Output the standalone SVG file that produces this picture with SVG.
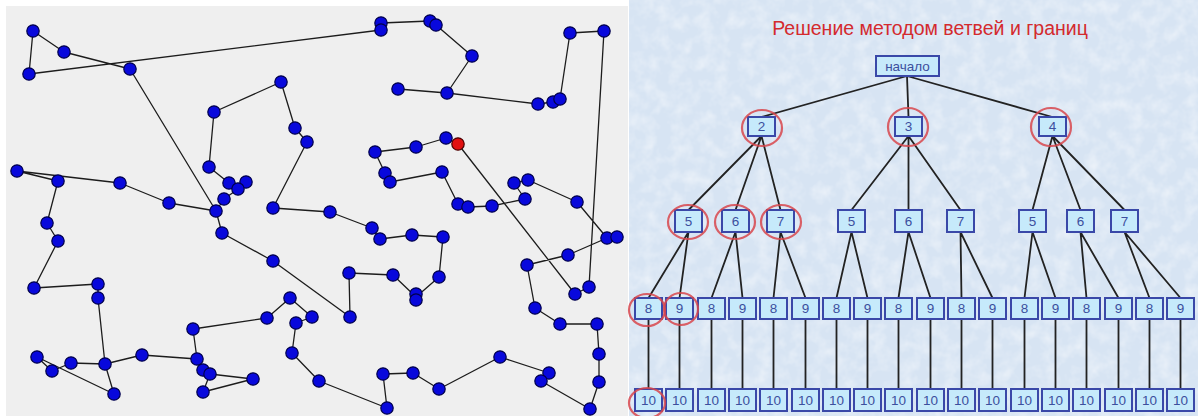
<svg xmlns="http://www.w3.org/2000/svg" width="1198" height="416" viewBox="0 0 1198 416">
  <style>
    .route { fill: none; stroke: #1c1c1c; stroke-width: 1.3; stroke-linejoin: round; }
    .city { fill: #0808dc; stroke: #00004a; stroke-width: 1.2; }
    .city-start { fill: #e01010; stroke: #4a0000; stroke-width: 1.2; }
    .box { fill: #c6eafb; stroke: #3a48a8; stroke-width: 2; }
    .lbl { font-family: "Liberation Sans", Arial, sans-serif; font-size: 13.5px; fill: #3c4f9e; text-anchor: middle; }
    .edge { stroke: #222222; stroke-width: 1.8; fill: none; }
    .mark { fill: none; stroke: #d8474c; stroke-width: 2.2; stroke-opacity: 0.85; }
    .title { font-family: "Liberation Sans", Arial, sans-serif; font-size: 19.5px; fill: #d42a2e; text-anchor: middle; }
  </style>
  <defs>
    <filter id="mottle" x="0" y="0" width="100%" height="100%">
      <feTurbulence type="fractalNoise" baseFrequency="0.07" numOctaves="3" seed="4"/>
      <feColorMatrix type="matrix" values="0 0 0 0 1  0 0 0 0 1  0 0 0 0 1  0.9 0 0 0 -0.36"/>
    </filter>
  </defs>

  <!-- backgrounds -->
  <rect x="0" y="0" width="1198" height="416" fill="#ffffff"/>
  <rect x="6" y="6" width="622" height="410" fill="#efefef"/>
  <rect x="629" y="0" width="569" height="416" fill="#d7e4f3"/>
  <rect x="629" y="0" width="569" height="416" filter="url(#mottle)"/>

  <!-- route through the cities -->
  <g id="route">
    <path class="route" d="M381,30 L29,74 L33,31 L64,52 L130,69 L216,211"/>
    <path class="route" d="M381,23 L430,21 L436,25 L472,56 L447,93"/>
    <path class="route" d="M398,89 L447,93 L538,104 L553,102 L560,99 L570,33 L604,31 L589,287 L575,294 L458,144 L446,138 L416,147 L375,152 L385,173 L390,182 L442,172 L458,204 L468,207 L492,206 L525,199 L514,183 L528,180 L577,202 L607,238 L568,255 L527,265 L535,308 L560,324 L597,324 L599,354 L599,382 L590,409 L541,381 L549,373 L500,357 L439,389 L413,373 L383,374 L387,408 L319,381 L292,353 L296,323 L312,317 L290,298 L267,318 L193,329 L197,359 L203,370 L210,374 L253,379 L203,392 L210,374"/>
    <path class="route" d="M47,223 L58,181 L17,171 L120,183 L169,203 L216,211 L222,233 L273,261 L350,317 L349,273 L393,275 L416,297 L439,277 L443,237 L412,235 L380,239 L372,228 L330,212 L273,208 L307,142 L295,128 L281,82 L214,112 L209,167 L229,183 L238,189 L224,199 L216,211"/>
    <path class="route" d="M238,189 L246,182"/>
    <path class="route" d="M47,223 L58,241 L34,288 L98,284 L98,298 L105,364 L114,394 L37,357 L52,371 L71,363 L105,364 L142,355 L197,359"/>
  </g>

  <!-- cities -->
  <g id="cities">
    <g id="c1"><circle class="city" cx="33" cy="31" r="6.2"/></g>
    <g id="c2"><circle class="city" cx="64" cy="52" r="6.2"/></g>
    <g id="c3"><circle class="city" cx="29" cy="74" r="6.2"/></g>
    <g id="c4"><circle class="city" cx="130" cy="69" r="6.2"/></g>
    <g id="c5"><circle class="city" cx="281" cy="82" r="6.2"/></g>
    <g id="c6"><circle class="city" cx="214" cy="112" r="6.2"/></g>
    <g id="c7"><circle class="city" cx="295" cy="128" r="6.2"/></g>
    <g id="c8"><circle class="city" cx="307" cy="142" r="6.2"/></g>
    <g id="c9"><circle class="city" cx="209" cy="167" r="6.2"/></g>
    <g id="c10"><circle class="city" cx="229" cy="183" r="6.2"/></g>
    <g id="c11"><circle class="city" cx="246" cy="182" r="6.2"/></g>
    <g id="c12"><circle class="city" cx="238" cy="189" r="6.2"/></g>
    <g id="c13"><circle class="city" cx="224" cy="199" r="6.2"/></g>
    <g id="c14"><circle class="city" cx="17" cy="171" r="6.2"/></g>
    <g id="c15"><circle class="city" cx="58" cy="181" r="6.2"/></g>
    <g id="c16"><circle class="city" cx="120" cy="183" r="6.2"/></g>
    <g id="c17"><circle class="city" cx="169" cy="203" r="6.2"/></g>
    <g id="c18"><circle class="city" cx="216" cy="211" r="6.2"/></g>
    <g id="c19"><circle class="city" cx="273" cy="208" r="6.2"/></g>
    <g id="c20"><circle class="city" cx="222" cy="233" r="6.2"/></g>
    <g id="c21"><circle class="city" cx="273" cy="261" r="6.2"/></g>
    <g id="c22"><circle class="city" cx="47" cy="223" r="6.2"/></g>
    <g id="c23"><circle class="city" cx="58" cy="241" r="6.2"/></g>
    <g id="c24"><circle class="city" cx="34" cy="288" r="6.2"/></g>
    <g id="c25"><circle class="city" cx="98" cy="284" r="6.2"/></g>
    <g id="c26"><circle class="city" cx="98" cy="298" r="6.2"/></g>
    <g id="c27"><circle class="city" cx="37" cy="357" r="6.2"/></g>
    <g id="c28"><circle class="city" cx="52" cy="371" r="6.2"/></g>
    <g id="c29"><circle class="city" cx="71" cy="363" r="6.2"/></g>
    <g id="c30"><circle class="city" cx="105" cy="364" r="6.2"/></g>
    <g id="c31"><circle class="city" cx="114" cy="394" r="6.2"/></g>
    <g id="c32"><circle class="city" cx="142" cy="355" r="6.2"/></g>
    <g id="c33"><circle class="city" cx="193" cy="329" r="6.2"/></g>
    <g id="c34"><circle class="city" cx="197" cy="359" r="6.2"/></g>
    <g id="c35"><circle class="city" cx="203" cy="370" r="6.2"/></g>
    <g id="c36"><circle class="city" cx="210" cy="374" r="6.2"/></g>
    <g id="c37"><circle class="city" cx="203" cy="392" r="6.2"/></g>
    <g id="c38"><circle class="city" cx="253" cy="379" r="6.2"/></g>
    <g id="c39"><circle class="city" cx="267" cy="318" r="6.2"/></g>
    <g id="c40"><circle class="city" cx="290" cy="298" r="6.2"/></g>
    <g id="c41"><circle class="city" cx="296" cy="323" r="6.2"/></g>
    <g id="c42"><circle class="city" cx="292" cy="353" r="6.2"/></g>
    <g id="c43"><circle class="city" cx="330" cy="212" r="6.2"/></g>
    <g id="c44"><circle class="city" cx="372" cy="228" r="6.2"/></g>
    <g id="c45"><circle class="city" cx="380" cy="239" r="6.2"/></g>
    <g id="c46"><circle class="city" cx="412" cy="235" r="6.2"/></g>
    <g id="c47"><circle class="city" cx="443" cy="237" r="6.2"/></g>
    <g id="c48"><circle class="city" cx="349" cy="273" r="6.2"/></g>
    <g id="c49"><circle class="city" cx="393" cy="275" r="6.2"/></g>
    <g id="c50"><circle class="city" cx="416" cy="294" r="6.2"/></g>
    <g id="c51"><circle class="city" cx="416" cy="300" r="6.2"/></g>
    <g id="c52"><circle class="city" cx="439" cy="277" r="6.2"/></g>
    <g id="c53"><circle class="city" cx="350" cy="317" r="6.2"/></g>
    <g id="c54"><circle class="city" cx="312" cy="317" r="6.2"/></g>
    <g id="c55"><circle class="city" cx="458" cy="204" r="6.2"/></g>
    <g id="c56"><circle class="city" cx="468" cy="207" r="6.2"/></g>
    <g id="c57"><circle class="city" cx="492" cy="206" r="6.2"/></g>
    <g id="c58"><circle class="city" cx="525" cy="199" r="6.2"/></g>
    <g id="c59"><circle class="city" cx="577" cy="202" r="6.2"/></g>
    <g id="c60"><circle class="city" cx="527" cy="265" r="6.2"/></g>
    <g id="c61"><circle class="city" cx="568" cy="255" r="6.2"/></g>
    <g id="c62"><circle class="city" cx="575" cy="294" r="6.2"/></g>
    <g id="c63"><circle class="city" cx="589" cy="287" r="6.2"/></g>
    <g id="c64"><circle class="city" cx="535" cy="308" r="6.2"/></g>
    <g id="c65"><circle class="city" cx="560" cy="324" r="6.2"/></g>
    <g id="c66"><circle class="city" cx="597" cy="324" r="6.2"/></g>
    <g id="c67"><circle class="city" cx="599" cy="354" r="6.2"/></g>
    <g id="c68"><circle class="city" cx="599" cy="382" r="6.2"/></g>
    <g id="c69"><circle class="city" cx="590" cy="409" r="6.2"/></g>
    <g id="c70"><circle class="city" cx="319" cy="381" r="6.2"/></g>
    <g id="c71"><circle class="city" cx="383" cy="374" r="6.2"/></g>
    <g id="c72"><circle class="city" cx="413" cy="373" r="6.2"/></g>
    <g id="c73"><circle class="city" cx="439" cy="389" r="6.2"/></g>
    <g id="c74"><circle class="city" cx="500" cy="357" r="6.2"/></g>
    <g id="c75"><circle class="city" cx="549" cy="373" r="6.2"/></g>
    <g id="c76"><circle class="city" cx="541" cy="381" r="6.2"/></g>
    <g id="c77"><circle class="city" cx="387" cy="408" r="6.2"/></g>
    <g id="c78"><circle class="city" cx="381" cy="23" r="6.2"/></g>
    <g id="c79"><circle class="city" cx="381" cy="30" r="6.2"/></g>
    <g id="c80"><circle class="city" cx="430" cy="21" r="6.2"/></g>
    <g id="c81"><circle class="city" cx="436" cy="25" r="6.2"/></g>
    <g id="c82"><circle class="city" cx="472" cy="56" r="6.2"/></g>
    <g id="c83"><circle class="city" cx="398" cy="89" r="6.2"/></g>
    <g id="c84"><circle class="city" cx="447" cy="93" r="6.2"/></g>
    <g id="c85"><circle class="city" cx="538" cy="104" r="6.2"/></g>
    <g id="c86"><circle class="city" cx="553" cy="102" r="6.2"/></g>
    <g id="c87"><circle class="city" cx="560" cy="99" r="6.2"/></g>
    <g id="c88"><circle class="city" cx="570" cy="33" r="6.2"/></g>
    <g id="c89"><circle class="city" cx="604" cy="31" r="6.2"/></g>
    <g id="c90"><circle class="city" cx="375" cy="152" r="6.2"/></g>
    <g id="c91"><circle class="city" cx="416" cy="147" r="6.2"/></g>
    <g id="c92"><circle class="city" cx="446" cy="138" r="6.2"/></g>
    <g id="c93"><circle class="city-start" cx="458" cy="144" r="6.2"/></g>
    <g id="c94"><circle class="city" cx="385" cy="173" r="6.2"/></g>
    <g id="c95"><circle class="city" cx="390" cy="182" r="6.2"/></g>
    <g id="c96"><circle class="city" cx="442" cy="172" r="6.2"/></g>
    <g id="c97"><circle class="city" cx="514" cy="183" r="6.2"/></g>
    <g id="c98"><circle class="city" cx="528" cy="180" r="6.2"/></g>
    <g id="c99"><circle class="city" cx="607" cy="238" r="6.2"/></g>
    <g id="c100"><circle class="city" cx="617" cy="237" r="6.2"/></g>
  </g>

  <!-- branch and bound tree -->
  <text class="title" x="930" y="35">Решение методом ветвей и границ</text>

  <g id="tree-edges">
    <path class="edge" d="M907,76 L761.5,117 M907,76 L908.5,117 M907,76 L1052.5,117"/>
    <path class="edge" d="M761.5,136 L688.5,210 M761.5,136 L735.5,210 M761.5,136 L780.5,210
                          M908.5,136 L851.5,210 M908.5,136 L908.5,210 M908.5,136 L960.5,210
                          M1052.5,136 L1032.5,210 M1052.5,136 L1080.5,210 M1052.5,136 L1124.5,210"/>
    <path class="edge" d="M688.5,232 L648.5,298 M688.5,232 L679.5,298
                          M735.5,232 L711.5,298 M735.5,232 L742.5,298
                          M780.5,232 L773.5,298 M780.5,232 L805.5,298
                          M851.5,232 L836.5,298 M851.5,232 L867.5,298
                          M908.5,232 L898.5,298 M908.5,232 L930.5,298
                          M960.5,232 L961.5,298 M960.5,232 L992.5,298
                          M1032.5,232 L1024.5,298 M1032.5,232 L1055.5,298
                          M1080.5,232 L1086.5,298 M1080.5,232 L1118.5,298
                          M1124.5,232 L1149.5,298 M1124.5,232 L1180.5,298"/>
    <path class="edge" d="M648.5,319 V389 M679.5,319 V389 M711.5,319 V389 M742.5,319 V389
                          M773.5,319 V389 M805.5,319 V389 M836.5,319 V389 M867.5,319 V389
                          M898.5,319 V389 M930.5,319 V389 M961.5,319 V389 M992.5,319 V389
                          M1024.5,319 V389 M1055.5,319 V389 M1086.5,319 V389 M1118.5,319 V389
                          M1149.5,319 V389 M1180.5,319 V389"/>
  </g>

  <g id="n-root"><rect class="box" x="876" y="56" width="63" height="20"/><text class="lbl" x="907.5" y="71">начало</text></g>

  <g id="n-2"><rect class="box" x="748" y="117" width="27" height="19"/><text class="lbl" x="761.5" y="131">2</text></g>
  <g id="n-3"><rect class="box" x="895" y="117" width="27" height="19"/><text class="lbl" x="908.5" y="131">3</text></g>
  <g id="n-4"><rect class="box" x="1039" y="117" width="27" height="19"/><text class="lbl" x="1052.5" y="131">4</text></g>

  <g id="n-2-5"><rect class="box" x="675" y="210" width="27" height="22"/><text class="lbl" x="688.5" y="226">5</text></g>
  <g id="n-2-6"><rect class="box" x="722" y="210" width="27" height="22"/><text class="lbl" x="735.5" y="226">6</text></g>
  <g id="n-2-7"><rect class="box" x="767" y="210" width="27" height="22"/><text class="lbl" x="780.5" y="226">7</text></g>
  <g id="n-3-5"><rect class="box" x="838" y="210" width="27" height="22"/><text class="lbl" x="851.5" y="226">5</text></g>
  <g id="n-3-6"><rect class="box" x="895" y="210" width="27" height="22"/><text class="lbl" x="908.5" y="226">6</text></g>
  <g id="n-3-7"><rect class="box" x="947" y="210" width="27" height="22"/><text class="lbl" x="960.5" y="226">7</text></g>
  <g id="n-4-5"><rect class="box" x="1019" y="210" width="27" height="22"/><text class="lbl" x="1032.5" y="226">5</text></g>
  <g id="n-4-6"><rect class="box" x="1067" y="210" width="27" height="22"/><text class="lbl" x="1080.5" y="226">6</text></g>
  <g id="n-4-7"><rect class="box" x="1111" y="210" width="27" height="22"/><text class="lbl" x="1124.5" y="226">7</text></g>

  <g id="n-l3-1"><rect class="box" x="635" y="298" width="27" height="21"/><text class="lbl" x="648.5" y="313">8</text></g>
  <g id="n-l3-2"><rect class="box" x="666" y="298" width="27" height="21"/><text class="lbl" x="679.5" y="313">9</text></g>
  <g id="n-l3-3"><rect class="box" x="698" y="298" width="27" height="21"/><text class="lbl" x="711.5" y="313">8</text></g>
  <g id="n-l3-4"><rect class="box" x="729" y="298" width="27" height="21"/><text class="lbl" x="742.5" y="313">9</text></g>
  <g id="n-l3-5"><rect class="box" x="760" y="298" width="27" height="21"/><text class="lbl" x="773.5" y="313">8</text></g>
  <g id="n-l3-6"><rect class="box" x="792" y="298" width="27" height="21"/><text class="lbl" x="805.5" y="313">9</text></g>
  <g id="n-l3-7"><rect class="box" x="823" y="298" width="27" height="21"/><text class="lbl" x="836.5" y="313">8</text></g>
  <g id="n-l3-8"><rect class="box" x="854" y="298" width="27" height="21"/><text class="lbl" x="867.5" y="313">9</text></g>
  <g id="n-l3-9"><rect class="box" x="885" y="298" width="27" height="21"/><text class="lbl" x="898.5" y="313">8</text></g>
  <g id="n-l3-10"><rect class="box" x="917" y="298" width="27" height="21"/><text class="lbl" x="930.5" y="313">9</text></g>
  <g id="n-l3-11"><rect class="box" x="948" y="298" width="27" height="21"/><text class="lbl" x="961.5" y="313">8</text></g>
  <g id="n-l3-12"><rect class="box" x="979" y="298" width="27" height="21"/><text class="lbl" x="992.5" y="313">9</text></g>
  <g id="n-l3-13"><rect class="box" x="1011" y="298" width="27" height="21"/><text class="lbl" x="1024.5" y="313">8</text></g>
  <g id="n-l3-14"><rect class="box" x="1042" y="298" width="27" height="21"/><text class="lbl" x="1055.5" y="313">9</text></g>
  <g id="n-l3-15"><rect class="box" x="1073" y="298" width="27" height="21"/><text class="lbl" x="1086.5" y="313">8</text></g>
  <g id="n-l3-16"><rect class="box" x="1105" y="298" width="27" height="21"/><text class="lbl" x="1118.5" y="313">9</text></g>
  <g id="n-l3-17"><rect class="box" x="1136" y="298" width="27" height="21"/><text class="lbl" x="1149.5" y="313">8</text></g>
  <g id="n-l3-18"><rect class="box" x="1167" y="298" width="27" height="21"/><text class="lbl" x="1180.5" y="313">9</text></g>

  <g id="n-l4-1"><rect class="box" x="635" y="389" width="27" height="22"/><text class="lbl" x="648.5" y="405">10</text></g>
  <g id="n-l4-2"><rect class="box" x="666" y="389" width="27" height="22"/><text class="lbl" x="679.5" y="405">10</text></g>
  <g id="n-l4-3"><rect class="box" x="698" y="389" width="27" height="22"/><text class="lbl" x="711.5" y="405">10</text></g>
  <g id="n-l4-4"><rect class="box" x="729" y="389" width="27" height="22"/><text class="lbl" x="742.5" y="405">10</text></g>
  <g id="n-l4-5"><rect class="box" x="760" y="389" width="27" height="22"/><text class="lbl" x="773.5" y="405">10</text></g>
  <g id="n-l4-6"><rect class="box" x="792" y="389" width="27" height="22"/><text class="lbl" x="805.5" y="405">10</text></g>
  <g id="n-l4-7"><rect class="box" x="823" y="389" width="27" height="22"/><text class="lbl" x="836.5" y="405">10</text></g>
  <g id="n-l4-8"><rect class="box" x="854" y="389" width="27" height="22"/><text class="lbl" x="867.5" y="405">10</text></g>
  <g id="n-l4-9"><rect class="box" x="885" y="389" width="27" height="22"/><text class="lbl" x="898.5" y="405">10</text></g>
  <g id="n-l4-10"><rect class="box" x="917" y="389" width="27" height="22"/><text class="lbl" x="930.5" y="405">10</text></g>
  <g id="n-l4-11"><rect class="box" x="948" y="389" width="27" height="22"/><text class="lbl" x="961.5" y="405">10</text></g>
  <g id="n-l4-12"><rect class="box" x="979" y="389" width="27" height="22"/><text class="lbl" x="992.5" y="405">10</text></g>
  <g id="n-l4-13"><rect class="box" x="1011" y="389" width="27" height="22"/><text class="lbl" x="1024.5" y="405">10</text></g>
  <g id="n-l4-14"><rect class="box" x="1042" y="389" width="27" height="22"/><text class="lbl" x="1055.5" y="405">10</text></g>
  <g id="n-l4-15"><rect class="box" x="1073" y="389" width="27" height="22"/><text class="lbl" x="1086.5" y="405">10</text></g>
  <g id="n-l4-16"><rect class="box" x="1105" y="389" width="27" height="22"/><text class="lbl" x="1118.5" y="405">10</text></g>
  <g id="n-l4-17"><rect class="box" x="1136" y="389" width="27" height="22"/><text class="lbl" x="1149.5" y="405">10</text></g>
  <g id="n-l4-18"><rect class="box" x="1167" y="389" width="27" height="22"/><text class="lbl" x="1180.5" y="405">10</text></g>

  <!-- highlighted branch -->
  <g id="marks">
    <ellipse class="mark" cx="762" cy="128" rx="20" ry="18"/>
    <ellipse class="mark" cx="908" cy="127" rx="20" ry="19"/>
    <ellipse class="mark" cx="1051" cy="127" rx="20" ry="19"/>
    <ellipse class="mark" cx="688" cy="222" rx="20" ry="17"/>
    <ellipse class="mark" cx="735" cy="222" rx="20" ry="17"/>
    <ellipse class="mark" cx="781" cy="222" rx="20" ry="17"/>
    <ellipse class="mark" cx="647" cy="310" rx="18" ry="16"/>
    <ellipse class="mark" cx="681" cy="309" rx="17" ry="16"/>
    <ellipse class="mark" cx="647" cy="403" rx="18" ry="15"/>
  </g>
</svg>
